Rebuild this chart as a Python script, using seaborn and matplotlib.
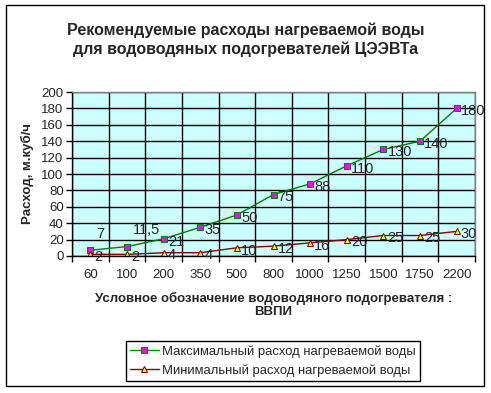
import numpy as np
import pandas as pd
import seaborn as sns
import matplotlib.pyplot as plt
from matplotlib.patches import Rectangle
from matplotlib.ticker import FixedLocator, MultipleLocator

# Chart data
models = ["60", "100", "200", "350", "500", "800", "1000", "1250", "1500", "1750", "2200"]
max_flow = [7, 11.5, 21, 35, 50, 75, 88, 110, 130, 140, 180]
min_flow = [2, 2, 4, 4, 10, 12, 16, 20, 25, 25, 30]
max_name = "Максимальный расход нагреваемой воды"
min_name = "Минимальный расход нагреваемой воды"

df = pd.DataFrame({"model": models * 2,
                   "flow": max_flow + min_flow,
                   "series": [max_name] * len(models) + [min_name] * len(models)})

sns.set_theme(style="white")
plt.rcParams['font.family'] = ['Liberation Sans', 'DejaVu Sans']

fig = plt.figure(figsize=(4.91, 3.93), dpi=100)
ax = fig.add_axes([72 / 491, 1 - 256 / 393, 403 / 491, 164 / 393])
ax.set_facecolor("#CCFFFF")

sns.lineplot(data=df, x="model", y="flow", hue="series", style="series",
             palette={max_name: "#008000", min_name: "#800000"},
             markers={max_name: "s", min_name: "^"}, dashes=False,
             linewidth=1, markersize=5, ax=ax, legend=False, sort=False)

# marker faces
lines = ax.get_lines()
lines[0].set_markerfacecolor("#FF00FF")
lines[0].set_markeredgecolor("#008000")
lines[1].set_markerfacecolor("#FFFF00")
lines[1].set_markeredgecolor("#800000")

# data labels
for i, v in enumerate(max_flow):
    txt = str(v).replace(".", ",") if v % 1 else str(int(v))
    if i < 2:
        ax.annotate(txt, (i, v), xytext=(4, 7), textcoords="offset points",
                    ha="left", va="bottom", fontsize=10.5)
    else:
        ax.annotate(txt, (i, v), xytext=(3, -2), textcoords="offset points",
                    ha="left", va="center", fontsize=10.5)
for i, v in enumerate(min_flow):
    ax.annotate(str(v), (i, v), xytext=(3, -2), textcoords="offset points",
                ha="left", va="center", fontsize=10.5)

ax.set_xlim(-0.5, len(models) - 0.5)
ax.set_ylim(0, 200)
ax.yaxis.set_major_locator(MultipleLocator(20))
ax.set_xticks(range(len(models)))
ax.set_xticklabels(models)
ax.xaxis.set_minor_locator(FixedLocator(np.arange(-0.5, len(models), 1.0)))
ax.tick_params(axis="x", which="major", length=0, labelsize=9.5, pad=9)
ax.tick_params(axis="x", which="minor", length=4, width=1, color="black", direction="out", bottom=True)
ax.tick_params(axis="y", length=4, width=1, color="black", direction="out", left=True, labelsize=9.5, pad=2)
ax.grid(True, axis="y", color="black", linewidth=1)
ax.grid(True, axis="x", which="minor", color="black", linewidth=1)
ax.grid(False, axis="x", which="major")

for side in ["left", "bottom"]:
    ax.spines[side].set_color("black")
    ax.spines[side].set_linewidth(1)
for side in ["top", "right"]:
    ax.spines[side].set_color("#808080")
    ax.spines[side].set_linewidth(1)

ax.set_ylabel("Расход, м.куб/ч", fontsize=9.5, fontweight="bold", labelpad=5)
ax.set_xlabel("Условное обозначение водоводяного подогревателя :\nВВПИ",
              fontsize=9.5, fontweight="bold", labelpad=8, linespacing=1.2)

fig.text(0.5, 1 - 40 / 393, "Рекомендуемые расходы нагреваемой воды\nдля водоводяных подогревателей ЦЭЭВТа",
         ha="center", va="center", fontsize=11.5, fontweight="bold", linespacing=1.25)

leg = fig.legend(lines, [max_name, min_name], loc="center",
                 bbox_to_anchor=(273 / 491, 1 - 361 / 393), fontsize=9.4,
                 frameon=True, fancybox=False, framealpha=1, edgecolor="black",
                 handlelength=2.2, handletextpad=0.3, borderpad=0.3, labelspacing=0.5)
leg.get_frame().set_linewidth(1)

fig.patches.append(Rectangle((6 / 491, 1 - 386 / 393), 478 / 491, 381 / 393,
                             transform=fig.transFigure, fill=False,
                             edgecolor="black", linewidth=1))

fig.savefig("out.png", dpi=100)
